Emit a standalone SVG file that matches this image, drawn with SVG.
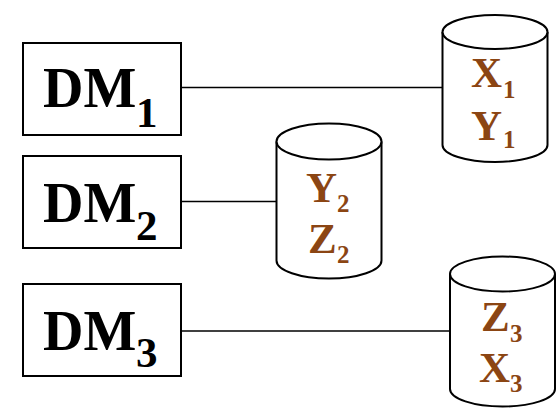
<svg xmlns="http://www.w3.org/2000/svg" width="560" height="412" viewBox="0 0 560 412">
  <style>
    .box { fill: #ffffff; stroke: #000000; stroke-width: 2; }
    .cyl { fill: #ffffff; stroke: #000000; stroke-width: 2; }
    .link { stroke: #000000; stroke-width: 1.6; fill: none; }
    .dm { font-family: "Liberation Serif", "Times New Roman", serif; font-weight: bold; font-size: 56px; fill: #000000; }
    .dmsub { font-family: "Liberation Serif", "Times New Roman", serif; font-weight: bold; font-size: 43px; fill: #000000; }
    .var { font-family: "Liberation Serif", "Times New Roman", serif; font-weight: bold; font-size: 43px; fill: #8B4513; }
    .varsub { font-family: "Liberation Serif", "Times New Roman", serif; font-weight: bold; font-size: 25px; fill: #8B4513; }
  </style>

  <g id="connectors">
    <line class="link" x1="181" y1="87.5" x2="443" y2="87.5"/>
    <line class="link" x1="181" y1="201.5" x2="277" y2="201.5"/>
    <line class="link" x1="181" y1="331" x2="450" y2="331"/>
  </g>

  <g id="dm1">
    <rect class="box" x="23" y="43" width="158" height="92"/>
    <text class="dm" x="43" y="107">DM</text>
    <text class="dmsub" x="136" y="127">1</text>
  </g>

  <g id="dm2">
    <rect class="box" x="23" y="156" width="158" height="92"/>
    <text class="dm" x="43" y="222">DM</text>
    <text class="dmsub" x="136" y="240">2</text>
  </g>

  <g id="dm3">
    <rect class="box" x="23" y="284" width="158" height="92"/>
    <text class="dm" x="43" y="350">DM</text>
    <text class="dmsub" x="136" y="367">3</text>
  </g>

  <g id="store1">
    <path class="cyl" d="M442.5,32 L442.5,145 A52.5,17 0 0 0 547.5,145 L547.5,32"/>
    <ellipse class="cyl" cx="495" cy="32" rx="52.5" ry="17"/>
    <text class="var" x="471" y="87">X</text>
    <text class="varsub" x="503" y="98">1</text>
    <text class="var" x="471" y="140">Y</text>
    <text class="varsub" x="503" y="148">1</text>
  </g>

  <g id="store2">
    <path class="cyl" d="M276.5,141.5 L276.5,260.5 A52.5,18 0 0 0 381.5,260.5 L381.5,141.5"/>
    <ellipse class="cyl" cx="329" cy="141.5" rx="52.5" ry="18"/>
    <text class="var" x="306" y="201.5">Y</text>
    <text class="varsub" x="337" y="211.5">2</text>
    <text class="var" x="308" y="252.5">Z</text>
    <text class="varsub" x="337" y="263">2</text>
  </g>

  <g id="store3">
    <path class="cyl" d="M450,274 L450,389 A52.5,17.5 0 0 0 555,389 L555,274"/>
    <ellipse class="cyl" cx="502.5" cy="274" rx="52.5" ry="17.5"/>
    <text class="var" x="481" y="330.5">Z</text>
    <text class="varsub" x="510" y="341.5">3</text>
    <text class="var" x="479" y="381.5">X</text>
    <text class="varsub" x="510" y="391.5">3</text>
  </g>
</svg>
